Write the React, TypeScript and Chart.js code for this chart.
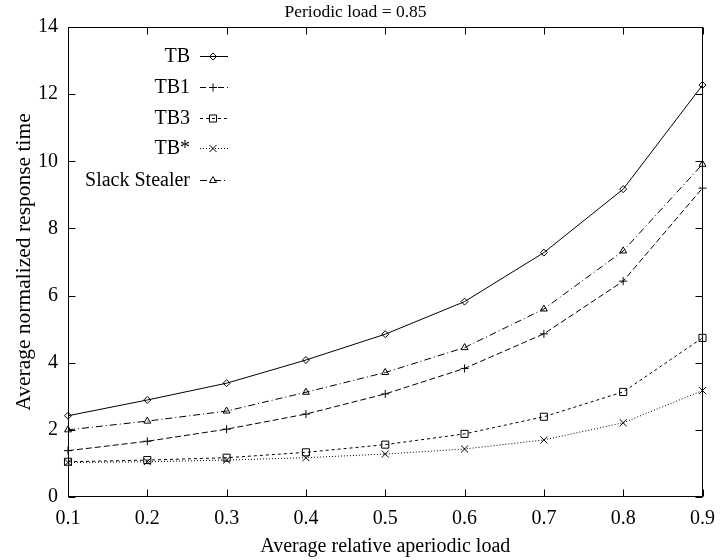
import React, { useEffect, useRef } from 'react';
import { Chart, registerables } from 'chart.js';
import { drawPoint } from 'chart.js/helpers';

Chart.register(...registerables);

const xLabels = ['0.1', '0.2', '0.3', '0.4', '0.5', '0.6', '0.7', '0.8', '0.9'];
const seriesNames = ['TB', 'TB1', 'TB3', 'TB*', 'Slack Stealer'];
const tbValues = [2.42, 2.89, 3.39, 4.08, 4.85, 5.82, 7.28, 9.17, 12.27];
const tb1Values = [1.38, 1.66, 2.02, 2.47, 3.07, 3.83, 4.86, 6.43, 9.2];
const tb3Values = [1.05, 1.1, 1.17, 1.33, 1.56, 1.88, 2.39, 3.13, 4.74];
const tbStarValues = [1.03, 1.05, 1.1, 1.17, 1.28, 1.43, 1.7, 2.21, 3.17];
const slackValues = [2.0, 2.26, 2.56, 3.12, 3.71, 4.45, 5.6, 7.33, 9.91];
const yMin = 0;
const yMax = 14;
const yStep = 2;
const titleText = 'Periodic load = 0.85';
const xTitle = 'Average relative aperiodic load';
const yTitle = 'Average normalized response time';

const FONT = '"Liberation Serif", "Times New Roman", serif';

const styles = [
  { pointStyle: 'rectRot', radius: 3.5, dash: [] as number[] },
  { pointStyle: 'cross', radius: 4, dash: [6, 3] },
  { pointStyle: 'rect', radius: 5, dash: [3, 3] },
  { pointStyle: 'crossRot', radius: 5, dash: [1, 2] },
  { pointStyle: 'triangle', radius: 4, dash: [7, 3, 1, 3] },
];

const frameAndLegend = {
  id: 'frameAndLegend',
  afterDraw(chart: any) {
    const { ctx, chartArea: a, scales } = chart;
    ctx.save();
    ctx.strokeStyle = '#000';
    ctx.lineWidth = 1;
    ctx.setLineDash([]);
    const L = Math.round(a.left) + 0.5;
    const R = Math.round(a.right) - 0.5;
    const T = Math.round(a.top) + 0.5;
    const B = Math.round(a.bottom) - 0.5;
    ctx.strokeRect(L, T, R - L, B - T);
    const tl = 7;
    ctx.beginPath();
    xLabels.forEach((_, i) => {
      const px = Math.round(scales.x.getPixelForValue(i)) + 0.5;
      ctx.moveTo(px, B);
      ctx.lineTo(px, B - tl);
      ctx.moveTo(px, T);
      ctx.lineTo(px, T + tl);
    });
    scales.y.ticks.forEach((t: any) => {
      const py = Math.round(scales.y.getPixelForValue(t.value)) + 0.5;
      ctx.moveTo(L, py);
      ctx.lineTo(L + tl, py);
      ctx.moveTo(R, py);
      ctx.lineTo(R - tl, py);
    });
    ctx.stroke();

    // legend
    const rowsY = [56, 87, 118, 148, 180];
    chart.data.datasets.forEach((ds: any, i: number) => {
      const y = rowsY[i];
      ctx.fillStyle = '#000';
      ctx.font = `20px ${FONT}`;
      ctx.textAlign = 'right';
      ctx.textBaseline = 'middle';
      ctx.fillText(ds.label, 190, y + 1);
      ctx.beginPath();
      ctx.setLineDash(ds.borderDash || []);
      ctx.lineWidth = 1;
      ctx.strokeStyle = '#000';
      ctx.moveTo(200, y + 0.5);
      ctx.lineTo(228, y + 0.5);
      ctx.stroke();
      ctx.setLineDash([]);
      ctx.fillStyle = 'rgba(0,0,0,0)';
      drawPoint(ctx, { pointStyle: ds.pointStyle, radius: ds.pointRadius, borderWidth: 1, rotation: 0 }, 213, y + 0.5);
    });
    ctx.restore();
  },
};

export default function App() {
  const ref = useRef<HTMLCanvasElement>(null);
  useEffect(() => {
    if (!ref.current) return;
    const allValues = [tbValues, tb1Values, tb3Values, tbStarValues, slackValues];
    const chart = new Chart(ref.current, {
      type: 'line',
      data: {
        labels: xLabels,
        datasets: allValues.map((vals, i) => ({
          label: seriesNames[i],
          data: vals,
          borderColor: '#000',
          borderWidth: 1,
          borderDash: styles[i].dash,
          pointStyle: styles[i].pointStyle as any,
          pointRadius: styles[i].radius,
          pointBorderWidth: 1,
          pointBorderColor: '#000',
          pointBackgroundColor: 'rgba(0,0,0,0)',
          tension: 0,
          fill: false,
        })),
      },
      options: {
        responsive: false,
        animation: false,
        devicePixelRatio: 1,
        layout: { padding: { left: 0, right: 14, top: 0, bottom: 0 } },
        plugins: {
          legend: { display: false },
          tooltip: { enabled: false },
          title: {
            display: true,
            text: titleText,
            color: '#000',
            font: { family: FONT, size: 17.5, weight: 'normal' },
            padding: { top: 2, bottom: 4 },
          },
        },
        scales: {
          x: {
            type: 'category',
            offset: false,
            grid: { display: false, drawTicks: false },
            border: { display: false },
            ticks: { color: '#000', font: { family: FONT, size: 20 }, padding: 10, maxRotation: 0, autoSkip: false },
            title: { display: true, text: xTitle, color: '#000', font: { family: FONT, size: 20 }, padding: { top: 0, bottom: 1 } },
            afterFit: (s: any) => { s.height = 63; },
          },
          y: {
            min: yMin,
            max: yMax,
            grid: { display: false, drawTicks: false },
            border: { display: false },
            ticks: { stepSize: yStep, color: '#000', font: { family: FONT, size: 20 }, padding: 10 },
            title: { display: true, text: yTitle, color: '#000', font: { family: FONT, size: 21.5 }, padding: { top: 11, bottom: 0 } },
            afterFit: (s: any) => { s.width = 68; },
          },
        },
      },
      plugins: [frameAndLegend],
    });
    return () => chart.destroy();
  }, []);
  return (
    <div style={{ position: 'fixed', left: 0, top: 0, width: 725, height: 560, background: '#fff' }}>
      <canvas ref={ref} width={725} height={560} />
    </div>
  );
}
